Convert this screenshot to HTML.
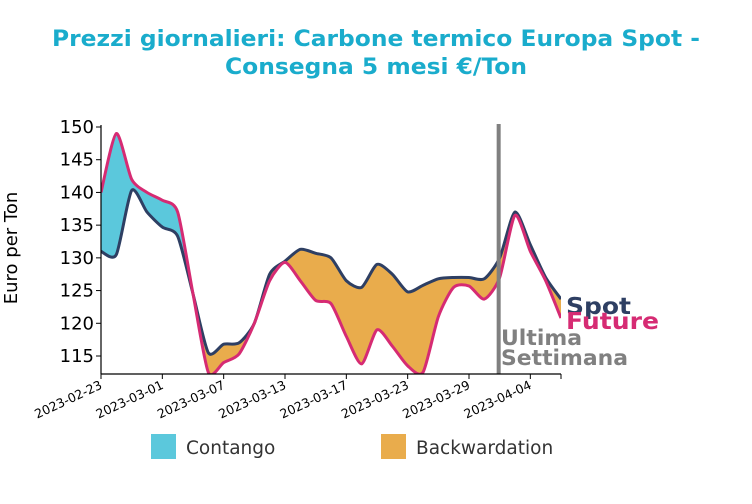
<!DOCTYPE html>
<html><head><meta charset="utf-8"><style>
html,body{margin:0;padding:0;background:#fff;width:752px;height:504px;overflow:hidden;font-family:"DejaVu Sans","Liberation Sans",sans-serif}
svg{display:block}
</style></head><body>
<svg id="chart" width="752" height="504" xmlns="http://www.w3.org/2000/svg" font-family="DejaVu Sans, Liberation Sans, sans-serif">
<text x="52" y="46" textLength="648" lengthAdjust="spacingAndGlyphs" font-size="22" font-weight="bold" fill="#1aaccc">Prezzi giornalieri: Carbone termico Europa Spot -</text>
<text x="225" y="74" textLength="302" lengthAdjust="spacingAndGlyphs" font-size="22" font-weight="bold" fill="#1aaccc">Consegna 5 mesi €/Ton</text>
<text transform="translate(17,248) rotate(-90)" text-anchor="middle" font-size="18" fill="#000">Euro per Ton</text>
<g id="plot"></g>
<rect x="151" y="434" width="25" height="25" fill="#5bc8dc"/>
<text x="186" y="454" font-size="18.5" fill="#333">Contango</text>
<rect x="381" y="434" width="25" height="25" fill="#e9ac4c"/>
<text x="416" y="454" font-size="18.5" fill="#333">Backwardation</text>
</svg>
<script>
const dates=["2023-02-23","2023-03-01","2023-03-07","2023-03-13","2023-03-17","2023-03-23","2023-03-29","2023-04-04"];
const dateIdx=[0,4,8,12,16,20,24,28];
const spot=[131,130.5,140.3,137,134.7,133.3,124.5,115.5,116.8,117,120,127.5,129.5,131.3,130.7,130,126.5,125.5,129,127.5,124.8,125.8,126.8,127,127,126.8,130,137,132,127,123.7];
const future=[140,149,142,140,138.8,137,124.5,112.5,114,115.3,120,126.5,129.3,126.5,123.5,123,118,113.8,119,116.5,113.5,112.5,121,125.5,125.7,123.7,127,136.5,131,126.5,120.8];
const yTicks=[115,120,125,130,135,140,145,150];
const lastWeekIdx=26;
const NS="http://www.w3.org/2000/svg";
const X0=101,X1=561,Y0=374,Y1=125;
const n=spot.length;
const x=i=>X0+(X1-X0)*i/(n-1);
const y=v=>356+(v-115)*(127-356)/35;
const g=document.getElementById('plot');
function el(t,a){const e=document.createElementNS(NS,t);for(const k in a)e.setAttribute(k,a[k]);return e;}
function smooth(arr){let p=arr.map((v,i)=>[x(i),y(v)]);let d="M"+p[0][0]+","+p[0][1];
for(let i=0;i<p.length-1;i++){const p0=p[i-1]||p[i],p1=p[i],p2=p[i+1],p3=p[i+2]||p2;const t=0.12;
d+=" C"+(p1[0]+(p2[0]-p0[0])*t)+","+(p1[1]+(p2[1]-p0[1])*t)+" "+(p2[0]-(p3[0]-p1[0])*t)+","+(p2[1]-(p3[1]-p1[1])*t)+" "+p2[0]+","+p2[1];}return d;}
const sp=smooth(spot),fp=smooth(future);
const defs=el('defs',{});g.appendChild(defs);
const c1=el('clipPath',{id:'aboveSpot'});c1.appendChild(el('path',{d:sp+` L${X1},0 L${X0},0 Z`}));defs.appendChild(c1);
const c2=el('clipPath',{id:'aboveFut'});c2.appendChild(el('path',{d:fp+` L${X1},0 L${X0},0 Z`}));defs.appendChild(c2);
const c3=el('clipPath',{id:'plotArea'});c3.appendChild(el('rect',{x:X0,y:Y1-10,width:X1-X0,height:Y0-Y1+10}));defs.appendChild(c3);
const area=el('g',{'clip-path':'url(#plotArea)'});g.appendChild(area);
const ca=el('path',{d:fp+` L${X1},600 L${X0},600 Z`,fill:'#5bc8dc','clip-path':'url(#aboveSpot)'});


area.appendChild(ca);
const ba=el('path',{d:sp+` L${X1},600 L${X0},600 Z`,fill:'#e9ac4c','clip-path':'url(#aboveFut)'});


area.appendChild(ba);
const sl=el('path',{d:sp,fill:'none',stroke:'#2e3f63','stroke-width':3});


area.appendChild(sl);
const fl=el('path',{d:fp,fill:'none',stroke:'#d62b73','stroke-width':3});


area.appendChild(fl);
const vl=el('line',{x1:x(lastWeekIdx)-1,x2:x(lastWeekIdx)-1,y1:124,y2:Y0,stroke:'#808080','stroke-width':4});


g.appendChild(vl);
g.appendChild(el('line',{x1:X0,x2:X0,y1:Y1,y2:Y0,stroke:'#000','stroke-width':1.2}));
g.appendChild(el('line',{x1:X0,x2:X1,y1:Y0,y2:Y0,stroke:'#000','stroke-width':1.2}));
yTicks.forEach(v=>{g.appendChild(el('line',{x1:X0-5,x2:X0,y1:y(v),y2:y(v),stroke:'#000'}));
const t=el('text',{x:X0-7,y:y(v)+6,'text-anchor':'end','font-size':18,fill:'#000'});t.textContent=v;


g.appendChild(t);});
dates.forEach((d,k)=>{const xx=x(dateIdx[k]);g.appendChild(el('line',{x1:xx,x2:xx,y1:Y0,y2:Y0+5,stroke:'#000'}));
const t=el('text',{transform:`translate(${xx+2},${Y0+14}) rotate(-25)`,'text-anchor':'end','font-size':12.5,fill:'#000'});t.textContent=d;


g.appendChild(t);});
g.appendChild(el('line',{x1:X1,x2:X1,y1:Y0,y2:Y0+5,stroke:'#000'}));
function lab(txt,xx,yy,col,sz,name,w){const t=el('text',{x:xx,y:yy,'font-size':sz,'font-weight':'bold',fill:col,textLength:w,lengthAdjust:'spacingAndGlyphs'});t.textContent=txt;


g.appendChild(t);}
lab('Spot',566,314,'#2e3f63',23,'spot-label',65);
lab('Future',566,329,'#d62b73',23,'future-label',93);
lab('Ultima',501,345,'#808080',21,'last-week-label-1',81);
lab('Settimana',501,365,'#808080',21,'last-week-label-2',127);
</script>
</body></html>
